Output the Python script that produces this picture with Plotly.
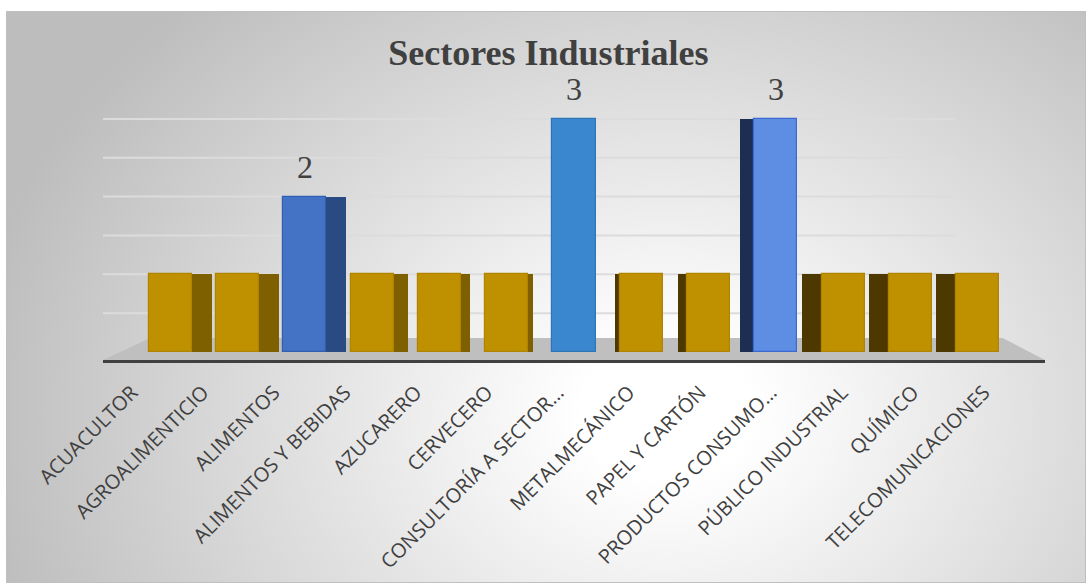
import base64
import plotly.graph_objects as go

# ---------------- data ----------------
categories = [
    "ACUACULTOR", "AGROALIMENTICIO", "ALIMENTOS", "ALIMENTOS Y BEBIDAS",
    "AZUCARERO", "CERVECERO", "CONSULTORÍA A SECTOR…", "METALMECÁNICO",
    "PAPEL Y CARTÓN", "PRODUCTOS CONSUMO…", "PÚBLICO INDUSTRIAL",
    "QUÍMICO", "TELECOMUNICACIONES",
]
values = [1, 1, 2, 1, 1, 1, 3, 1, 1, 3, 1, 1, 1]
grid_values = [0.5, 1.0, 1.5, 2.0, 2.5, 3.0]
title_text = "Sectores Industriales"

# ---------------- styles ----------------
GOLD = "#BF9000"
front_colors = [GOLD, GOLD, "#4472C4", GOLD, GOLD, GOLD, "#3A86CF", GOLD,
                GOLD, "#5E8EE4", GOLD, GOLD, GOLD]
front_lines = ["#B08400", "#B08400", "#2F5FB0", "#B08400", "#B08400", "#B08400",
               "#2E75B6", "#B08400", "#B08400", "#3A6ACF", "#B08400", "#B08400", "#B08400"]
side_colors = ["#7F6000", "#7F6000", "#2A4A84", "#7F6000", "#7F6000", "#7F6000",
               "#2E75B6", "#4D3900", "#4D3900", "#1C2E52", "#4D3900", "#4D3900", "#4D3900"]

W, H = 1086, 583
L, R, T, B = 103, 41, 94, 223
PW, PH = W - L - R, H - T - B
CENTER = 6
FRONT_W = 0.64
n = len(categories)
xs = list(range(n))

depth = [min(0.31, 0.075 * abs(i - CENTER)) for i in xs]
side_offset = [FRONT_W / 2 - 0.01 if i < CENTER else -FRONT_W / 2 - d + 0.01
               for i, d in zip(xs, depth)]

# y scale: base at pixel 352, ~77.7 px per unit
u = 77.7
y_min = -(T + PH - 352) / u
y_max = (352 - T) / u

fig = go.Figure()

# side faces (3-D look)
fig.add_trace(go.Bar(
    x=xs, y=values, width=depth, offset=side_offset,
    marker=dict(color=side_colors, line=dict(width=0)),
    hoverinfo="skip", showlegend=False,
))
# front faces
fig.add_trace(go.Bar(
    x=xs, y=values, width=FRONT_W,
    marker=dict(color=front_colors, line=dict(color=front_lines, width=1.2)),
    showlegend=False, name="",
))
# invisible carrier trace for the category label axis
fig.add_trace(go.Scatter(
    x=xs, y=values, xaxis="x2", yaxis="y", mode="markers",
    marker=dict(opacity=0, size=1), hoverinfo="skip", showlegend=False,
))

# data labels for the highlighted bars
for i, v in zip(xs, values):
    if v > 1:
        fig.add_annotation(
            x=i, y=v, xref="x", yref="y", text=str(v), showarrow=False,
            yanchor="bottom", yshift=10,
            font=dict(family="Liberation Serif", size=32, color="#404040"),
        )

# background: radial gradient with thin border
svg_w, svg_h = W - 6, H - 11
svg = f'''<svg xmlns="http://www.w3.org/2000/svg" width="{svg_w}" height="{svg_h}">
<defs><radialGradient id="g" gradientUnits="userSpaceOnUse" cx="660" cy="400" r="700"
 gradientTransform="translate(660 400) scale(1 0.8) translate(-660 -400)">
<stop offset="0" stop-color="#FFFFFF"/><stop offset="0.12" stop-color="#FFFFFF"/>
<stop offset="1" stop-color="#BDBDBD"/></radialGradient></defs>
<rect x="0.5" y="0.5" width="{svg_w-1}" height="{svg_h-1}" fill="url(#g)" stroke="#BFBFBF" stroke-width="1"/>
</svg>'''
src = "data:image/svg+xml;base64," + base64.b64encode(svg.encode()).decode()
fig.add_layout_image(dict(
    source=src, xref="paper", yref="paper",
    x=(6 - L) / PW, y=1 + (T - 11) / PH,
    sizex=svg_w / PW, sizey=svg_h / PH,
    xanchor="left", yanchor="top", sizing="stretch", layer="below",
))

# back-wall gridlines (stop before the right edge as in the original)
for g in grid_values:
    fig.add_shape(type="line", xref="paper", yref="y", x0=0, x1=(955 - L) / PW,
                  y0=g, y1=g, line=dict(color="#DCDCDC", width=2), layer="below")

# floor
fig.add_shape(type="path", xref="paper", yref="y",
              path=f"M 0,{y_min} L 1,{y_min} L 0.955,0.18 L 0.05,0.18 Z",
              fillcolor="#BFBFBF", line=dict(width=0), layer="below")

# label axis geometry (front plane: ~71 px per category)
lab_step = 71.0
lab_start = -(132 - L) / lab_step
lab_range = [lab_start, lab_start + PW / lab_step]

fig.update_layout(
    width=W, height=H,
    margin=dict(l=L, r=R, t=T, b=B, pad=0, autoexpand=False),
    paper_bgcolor="white", plot_bgcolor="rgba(0,0,0,0)",
    barmode="overlay", bargap=0,
    title=dict(text=f"<b>{title_text}</b>", x=0.505, xref="container", xanchor="center",
               y=1 - 52 / H, yref="container", yanchor="middle",
               font=dict(family="Liberation Serif", size=36, color="#404040")),
    xaxis=dict(range=[-1, 13], showticklabels=False, ticks="", showgrid=False,
               showline=True, linecolor="#404040", linewidth=3, zeroline=False,
               automargin=False),
    xaxis2=dict(overlaying="x", anchor="y", side="bottom", range=lab_range,
                tickmode="array", tickvals=xs, ticktext=categories, tickangle=-45,
                showgrid=False, showline=False, zeroline=False, ticks="",
                ticklabelstandoff=16, automargin=False,
                tickfont=dict(family="Open Sans", size=20, color="#404040")),
    yaxis=dict(range=[y_min, y_max], showticklabels=False, ticks="",
               showgrid=False, zeroline=False, showline=False, automargin=False),
    font=dict(family="Open Sans", color="#404040"),
)

fig.write_html("out.html")
